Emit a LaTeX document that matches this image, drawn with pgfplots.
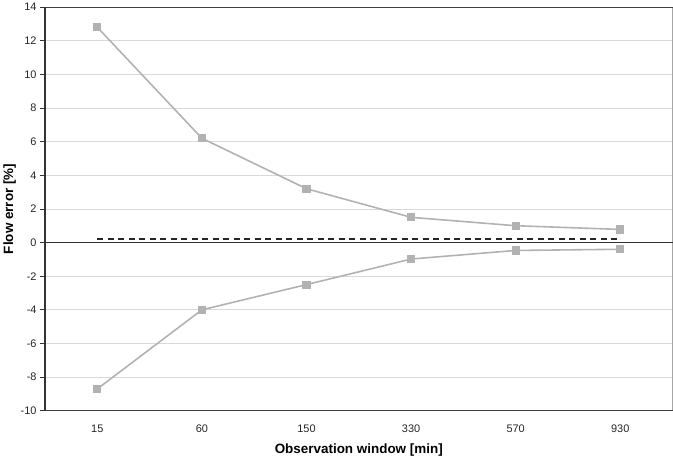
\documentclass[border=0pt]{standalone}
\usepackage{pgfplots}
\pgfplotsset{compat=1.18}
\usepackage{fontspec}
\setmainfont{Liberation Sans}
\begin{document}
\begin{tikzpicture}
\begin{axis}[
  scale only axis,
  width=628bp, height=404bp,
  xmin=-0.5, xmax=5.5,
  ymin=-10, ymax=14,
  ytick={-10,-8,...,14},
  xtick={0,1,2,3,4,5},
  xticklabels={15,60,150,330,570,930},
  ytick pos=left,
  major x tick style={draw=none},
  ymajorgrids,
  grid style={gray!30, line width=0.7pt},
  axis line style={draw=none},
  y tick style={black!80, line width=0.8pt},
  tick align=outside,
  major tick length=5bp,
  ticklabel style={font=\fontsize{11}{13}\selectfont, text=black!85},
  /pgf/number format/assume math mode=true,
  yticklabel style={xshift=0bp},
  xticklabel style={yshift=-6bp},
  xlabel={\textbf{Observation window [min]}},
  ylabel={\textbf{Flow error [\%]}},
  label style={font=\fontsize{13.5}{15}\selectfont},
  xlabel style={yshift=-4bp},
  ylabel style={yshift=-2bp},
  clip=false,
]
% frame
\draw[gray!70, line width=0.8pt] (rel axis cs:1,0) -- (rel axis cs:1,1);
\draw[black!75, line width=1pt] (rel axis cs:0,1) -- (rel axis cs:1,1);
\draw[black!75, line width=1pt] (rel axis cs:0,0) -- (rel axis cs:1,0);
\draw[black!80, line width=1.2pt] (rel axis cs:0,0) -- (rel axis cs:0,1);
\draw[black!80, line width=1pt] (axis cs:-0.5,0) -- (axis cs:5.5,0);
\addplot[black!85, line width=1.6pt, dash pattern=on 6bp off 4.5bp, mark=none] coordinates {(0,0.2) (5,0.2)};
\addplot[gray!60, line width=1.6pt, mark=square*, mark size=3.3bp, mark options={fill=gray!60, draw=gray!60}] coordinates {
(0,12.8) (1,6.2) (2,3.2) (3,1.5) (4,1.0) (5,0.78)};
\addplot[gray!60, line width=1.6pt, mark=square*, mark size=3.3bp, mark options={fill=gray!60, draw=gray!60}] coordinates {
(0,-8.7) (1,-4.0) (2,-2.5) (3,-0.98) (4,-0.47) (5,-0.4)};
\end{axis}
\end{tikzpicture}
\end{document}
